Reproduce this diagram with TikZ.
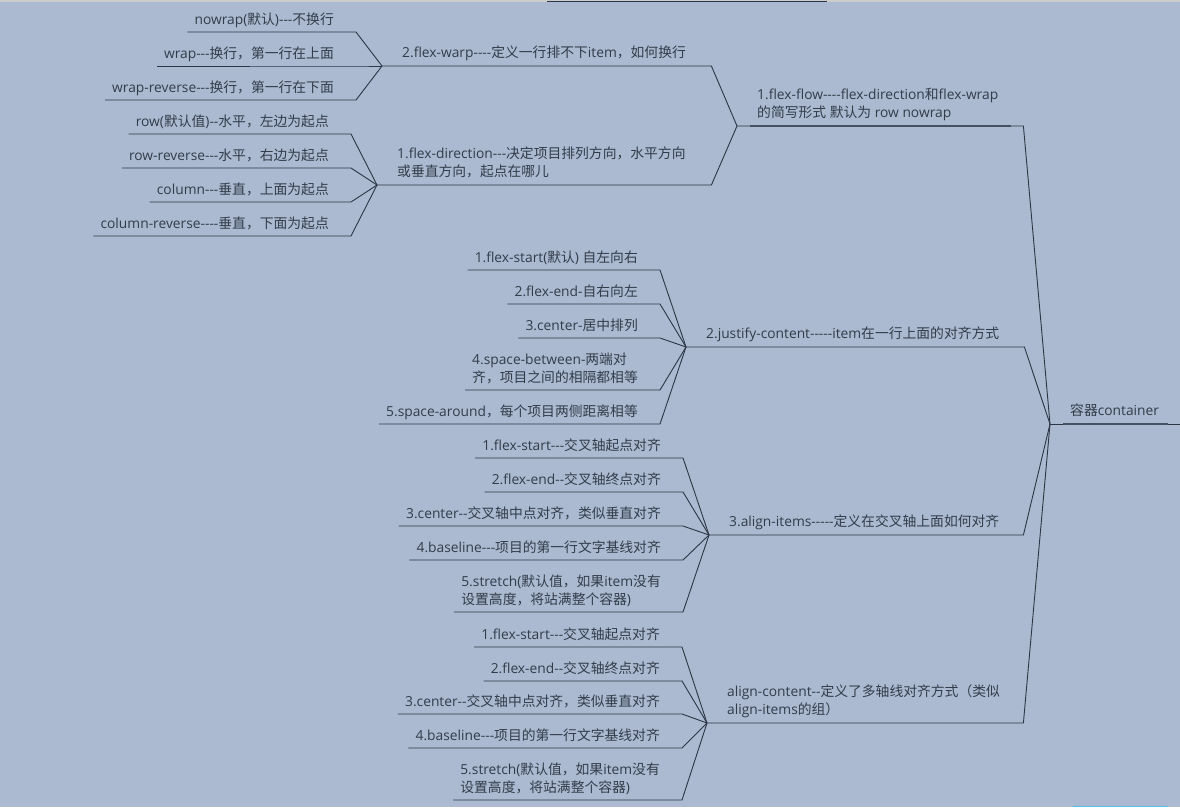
\documentclass[tikz,border=0pt]{standalone}
\usepackage{fontspec}
\setmainfont{Open Sans}[Ligatures=TeXOff]
\newfontfamily\cjkfont{Noto Sans CJK SC}[Ligatures=TeXOff]
% Chinese characters get their own face
\XeTeXinterchartokenstate=1
\newXeTeXintercharclass\cjkcls
\makeatletter
\def\setcjkrange#1#2{\count@=#1\relax
  \loop\XeTeXcharclass\count@=\cjkcls
  \ifnum\count@<#2\advance\count@\@ne\repeat}
\makeatother
\setcjkrange{"3000}{"303F}
\setcjkrange{"4E00}{"9FFF}
\setcjkrange{"FF00}{"FFEF}
\XeTeXinterchartoks 0 \cjkcls={\cjkfont}
\XeTeXinterchartoks 4095 \cjkcls={\cjkfont}
\XeTeXinterchartoks \cjkcls 0={\rmfamily}
\XeTeXinterchartoks \cjkcls 4095={\rmfamily}
% text blocks that sit on their last baseline
\newcommand\leaftext[1]{\begin{tabular}[b]{@{}l@{}}#1\end{tabular}}
\newcommand\topictext[2]{\begin{minipage}[b]{#1}\raggedright #2\end{minipage}}
\definecolor{bgc}{RGB}{171,186,208}
\definecolor{linec}{RGB}{44,54,70}
\definecolor{txtc}{RGB}{50,60,75}
\definecolor{barc}{RGB}{80,190,240}
\begin{document}
\begin{tikzpicture}[x=1pt,y=-1pt,
  every node/.style={font={\fontsize{13.8}{18.5}\selectfont\hyphenpenalty=10000 \exhyphenpenalty=10000 }, text=txtc},
  branch/.style={draw=linec, line width=0.9pt},
  mark line/.style={draw=linec!80!bgc, line width=1.6pt},
  leaf/.style={anchor=south east, inner xsep=7pt, inner ysep=7pt, text depth=0pt},
  topic/.style={anchor=south west, inner xsep=20pt, inner ysep=8pt, text depth=0pt}]
\useasboundingbox (0,0) rectangle (1180,807);
\fill[bgc] (0,0) rectangle (1180,807);
\fill[black!20] (0,0) rectangle (1180,1.5);
\draw[linec, line width=1.2pt] (547,1.2) -- (827,1.2);
\fill[barc] (1073,805.5) rectangle (1168,807);

% main topics
\node[topic] (root) at (1050,424) {\topictext{90pt}{容器container}};
\node[topic] (flow) at (737,126) {\topictext{246pt}{1.flex-flow----flex-direction和flex-wrap\\的简写形式 默认为 row nowrap}};
\node[topic] (justify) at (686,347) {\topictext{298pt}{2.justify-content-----item在一行上面的对齐方式}};
\node[topic] (items) at (709,535) {\topictext{274pt}{3.align-items-----定义在交叉轴上面如何对齐}};
\node[topic] (content) at (707,723) {\topictext{276pt}{align-content--定义了多轴线对齐方式（类似\\align-items的组）}};
\node[topic] (warp) at (382,66) {\topictext{289pt}{2.flex-warp----定义一行排不下item，如何换行}};
\node[topic] (dir) at (377,185) {\topictext{294pt}{1.flex-direction---决定项目排列方向，水平方向\\或垂直方向，起点在哪儿}};

\draw[branch] (root.south west) -- (root.south east);
\draw[mark line] ([xshift=13pt]root.south west) -- ([xshift=-12pt]root.south east);
\foreach \nm in {flow, justify, items, content}
  \draw[branch] (\nm.south west) -- (\nm.south east) -- (root.south west);
\draw[mark line] ([xshift=13pt]flow.south west) -- ([xshift=-12pt]flow.south east);
\draw[branch] (warp.south west) -- (warp.south east) -- (flow.south west);
\draw[branch] (dir.south west) -- (dir.south east) -- (flow.south west);

% leaves
\foreach \nm/\y/\txt in {nowrap/32/{nowrap(默认)---不换行},
                         wrap/66/{wrap---换行，第一行在上面},
                         wrapr/100/{wrap-reverse---换行，第一行在下面}}{
  \node[leaf] (\nm) at (341,\y) {\leaftext{\txt}};
  \draw[branch] (\nm.south west) -- (\nm.south east) -- +(15,0) -- (warp.south west);
}
\foreach \nm/\y/\txt in {row/134/{row(默认值)--水平，左边为起点},
                         rowr/168/{row-reverse---水平，右边为起点},
                         col/202/{column---垂直，上面为起点},
                         colr/236/{column-reverse----垂直，下面为起点}}{
  \node[leaf] (\nm) at (336,\y) {\leaftext{\txt}};
  \draw[branch] (\nm.south west) -- (\nm.south east) -- +(15,0) -- (dir.south west);
}
\foreach \nm/\y/\txt in {js1/270/{1.flex-start(默认) 自左向右},
                         js2/304/{2.flex-end-自右向左},
                         js3/338/{3.center-居中排列},
                         js4/390/{4.space-between-两端对\\齐，项目之间的相隔都相等},
                         js5/424/{5.space-around，每个项目两侧距离相等}}{
  \node[leaf] (\nm) at (645,\y) {\leaftext{\txt}};
  \draw[branch] (\nm.south west) -- (\nm.south east) -- +(15,0) -- (justify.south west);
}
\foreach \nm/\y/\txt in {ai1/458/{1.flex-start---交叉轴起点对齐},
                         ai2/492/{2.flex-end--交叉轴终点对齐},
                         ai3/526/{3.center--交叉轴中点对齐，类似垂直对齐},
                         ai4/560/{4.baseline---项目的第一行文字基线对齐},
                         ai5/612/{5.stretch(默认值，如果item没有\\设置高度，将站满整个容器)}}{
  \node[leaf] (\nm) at (668,\y) {\leaftext{\txt}};
  \draw[branch] (\nm.south west) -- (\nm.south east) -- +(15,0) -- (items.south west);
}
\foreach \nm/\y/\txt in {ac1/647/{1.flex-start---交叉轴起点对齐},
                         ac2/681/{2.flex-end--交叉轴终点对齐},
                         ac3/714/{3.center--交叉轴中点对齐，类似垂直对齐},
                         ac4/748/{4.baseline---项目的第一行文字基线对齐},
                         ac5/800/{5.stretch(默认值，如果item没有\\设置高度，将站满整个容器)}}{
  \node[leaf] (\nm) at (667,\y) {\leaftext{\txt}};
  \draw[branch] (\nm.south west) -- (\nm.south east) -- +(15,0) -- (content.south west);
}
\end{tikzpicture}
\end{document}
